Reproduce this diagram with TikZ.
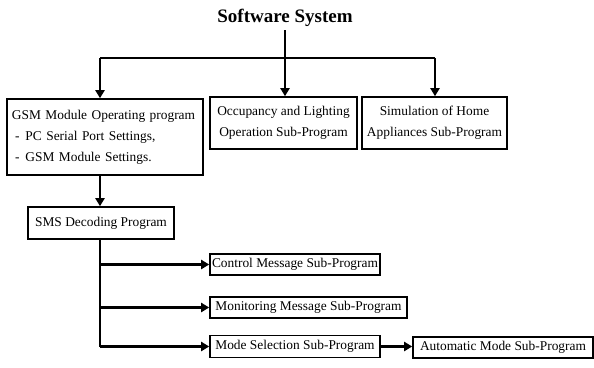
\documentclass[tikz,border=0pt]{standalone}
\usepackage{fontspec}
\setmainfont{Liberation Serif}
\usetikzlibrary{arrows.meta}
\tikzset{
  box/.style={draw,line width=1.6pt,inner sep=0pt,font=\fontsize{13.4}{21}\selectfont},
  conn/.style={line width=2.2pt},
  arr/.style={conn,-{Triangle[length=8pt,width=9pt]}}
}
\begin{document}
\begin{tikzpicture}[x=1pt,y=-1pt]
  \useasboundingbox (0,0) rectangle (594,367);
  %% title
  \node[font=\fontsize{19}{20}\selectfont\bfseries] (title) at (285,18) {Software System};
  %% first level
  \node[box,minimum width=196pt,minimum height=76pt,text width=186pt,align=left] (gsm) at (105,137)
    {GSM Module Operating program\\
     \hspace*{3pt}-\hspace*{6pt}PC Serial Port Settings,\\
     \hspace*{3pt}-\hspace*{6pt}GSM Module Settings.};
  \node[box,minimum width=147pt,minimum height=52pt,align=center] (occ) at (283.5,123)
    {Occupancy and Lighting\\Operation Sub-Program};
  \node[box,minimum width=145pt,minimum height=52pt,align=center] (sim) at (434.5,123)
    {Simulation of Home\\Appliances Sub-Program};
  %% decoding
  \node[box,minimum width=146pt,minimum height=32pt] (sms) at (101,223) {SMS Decoding Program};
  \node[box,minimum width=170pt,minimum height=21pt] (ctrl) at (295,264.5) {Control Message Sub-Program};
  \node[box,minimum width=197pt,minimum height=21pt] (mon) at (308.5,307.5) {Monitoring Message Sub-Program};
  \node[box,minimum width=170pt,minimum height=22pt] (mode) at (295,346.5) {Mode Selection Sub-Program};
  \node[box,minimum width=180pt,minimum height=21pt] (auto) at (503,347.5) {Automatic Mode Sub-Program};
  %% connectors
  \coordinate (barl) at (100,58);
  \coordinate (barr) at (435,58);
  \coordinate (trunk) at (100,346.5);
  \draw[conn] (barl) -- (barr);
  \draw[arr] (title.south) -- (title.south |- occ.north);
  \draw[arr] (barl) -- (barl |- gsm.north);
  \draw[arr] (barr) -- (barr |- sim.north);
  \draw[arr] (barl |- gsm.south) -- (barl |- sms.north);
  \draw[conn] (barl |- sms.south) -- (trunk);
  \draw[arr] (barl |- ctrl.west) -- (ctrl.west);
  \draw[arr] (barl |- mon.west) -- (mon.west);
  \draw[arr] (trunk) -- (mode.west);
  \draw[arr] (mode.east) -- (mode.east -| auto.west);
\end{tikzpicture}
\end{document}
